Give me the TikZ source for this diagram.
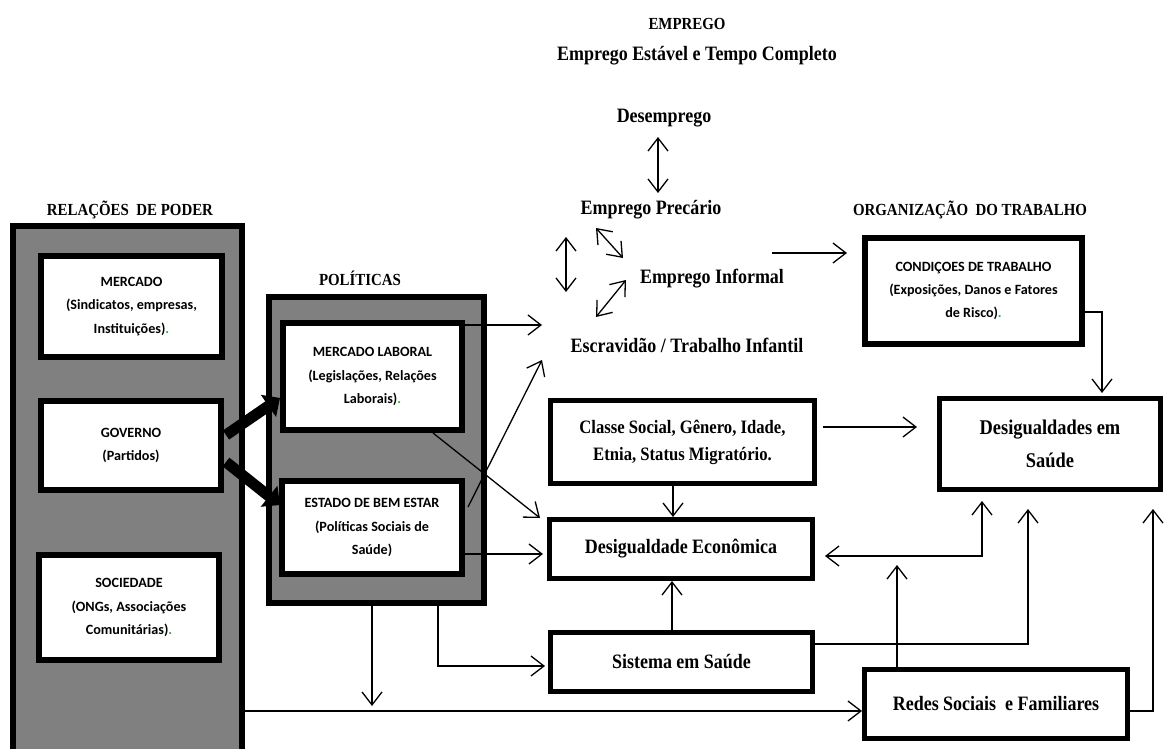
\documentclass[tikz,border=0pt]{standalone}
\usepackage{fontspec}
\setmainfont{Liberation Serif}[FakeStretch=0.88]
\newfontfamily\carl{Carlito}
\usetikzlibrary{arrows.meta}
\definecolor{boxgray}{RGB}{128,128,128}
\definecolor{dotgreen}{RGB}{60,160,60}
\tikzset{
 grayframe/.style={draw, fill=boxgray, line width=6bp, inner sep=0pt},
 wbox/.style={draw, fill=white, line width=6bp, inner sep=0pt, align=center, font=\carl\bfseries\fontsize{14.2}{23.5}\selectfont},
 mbox/.style={draw, fill=white, line width=5bp, inner sep=0pt, align=center},
 lbl/.style={inner sep=0pt, font=\bfseries\fontsize{20.5}{24}\selectfont},
 head/.style={inner sep=0pt, font=\bfseries\fontsize{17}{20}\selectfont},
 arr/.style={line width=1.3bp, -{Straight Barb[length=13bp,width=20bp]}},
 darr/.style={line width=1.3bp, {Straight Barb[length=13bp,width=20bp]}-{Straight Barb[length=13bp,width=20bp]}},
 fat/.style={line width=11bp, -{Triangle[length=14bp,width=26bp]}},
}
\begin{document}
\begin{tikzpicture}[x=1bp,y=-1bp]
\useasboundingbox (0,0) rectangle (1167,749);
\clip (0,0) rectangle (1167,749);
% titles
\node[head] (emp) at (687,24) {EMPREGO};
\node[lbl] (estavel) at (697,56) {Emprego Estável e Tempo Completo};
\node[lbl] (desemp) at (664,118) {Desemprego};
\node[lbl] (prec) at (651,210) {Emprego Precário};
\node[lbl] (inf) at (712,279) {Emprego Informal};
\node[lbl] (escr) at (687,345) {Escravidão\ /\ Trabalho Infantil};
\node[head] (org) at (970,210) {ORGANIZAÇÃO\ \ DO TRABALHO};
\node[head] (relt) at (130,210) {RELAÇÕES\ \ DE PODER};
\node[head] (polt) at (360,278) {POLÍTICAS};
% frames
\node[grayframe, minimum width=229bp, minimum height=546bp] (rel) at (127.5,499) {};
\node[grayframe, minimum width=215bp, minimum height=306bp] (pol) at (376.5,450) {};
% left boxes
\node[wbox, minimum width=181bp, minimum height=101bp] (merc) at (131.5,306.5) {MERCADO\\(Sindicatos, empresas,\\Instituições)\textcolor{dotgreen}{.}};
\node[wbox, minimum width=179bp, minimum height=89bp] (gov) at (131,445.5) {GOVERNO\\(Partidos)};
\node[wbox, minimum width=180bp, minimum height=105bp] (soc) at (129,607.5) {SOCIEDADE\\(ONGs, Associações\\Comunitárias)\textcolor{dotgreen}{.}};
\node[wbox, minimum width=179bp, minimum height=107bp] (ml) at (372.5,376.5) {MERCADO LABORAL\\(Legislações, Relações\\Laborais)\textcolor{dotgreen}{.}};
\node[wbox, minimum width=180bp, minimum height=93bp] (ebe) at (372,527.5) {ESTADO DE BEM ESTAR\\(Políticas Sociais de\\Saúde)};
\node[wbox, minimum width=217bp, minimum height=106bp] (cond) at (973.5,291) {CONDIÇOES DE TRABALHO\\(Exposições, Danos e Fatores\\de Risco)\textcolor{dotgreen}{.}};
% middle boxes
\node[mbox, minimum width=264bp, minimum height=83bp, font=\bfseries\fontsize{19}{27}\selectfont] (classe) at (682.5,442) {Classe Social, Gênero, Idade,\\Etnia, Status Migratório.};
\node[mbox, minimum width=263bp, minimum height=59bp, font=\bfseries\fontsize{20.5}{24}\selectfont] (decon) at (681,549) {Desigualdade Econômica};
\node[mbox, minimum width=262bp, minimum height=59bp, font=\bfseries\fontsize{20.5}{24}\selectfont] (sist) at (681.5,662) {Sistema em Saúde};
\node[mbox, minimum width=263bp, minimum height=69bp, font=\bfseries\fontsize{20.5}{24}\selectfont] (redes) at (996,704) {Redes Sociais\ \ e Familiares};
\node[mbox, minimum width=221bp, minimum height=91bp, font=\bfseries\fontsize{21}{33}\selectfont] (dsaude) at (1050,444) {Desigualdades em\\Saúde};
% connector coordinates
\coordinate (dA) at (658,137); \coordinate (dB) at (658,193);
\coordinate (vA) at (566,237); \coordinate (vB) at (566,292);
\coordinate (pA) at (596,228); \coordinate (pB) at (623,258);
\coordinate (iA) at (626,280); \coordinate (iB) at (596,317);
\coordinate (cS) at (772,253); \coordinate (cT) at (847,253);
\coordinate (mlR) at (465,325); \coordinate (escA) at (542,325);
\coordinate (ebeR) at (468,507); \coordinate (escB) at (542,360);
\coordinate (mlB) at (433,433); \coordinate (deTL) at (540,518);
\coordinate (ebeR2) at (465,554); \coordinate (deL) at (543,554);
\coordinate (polB1) at (372,606); \coordinate (dn1) at (372,706);
\coordinate (polB2) at (438,606); \coordinate (sk) at (438,666); \coordinate (siL) at (545,666);
\coordinate (relR) at (245,711); \coordinate (reL) at (862,711);
\coordinate (coR) at (1085,312); \coordinate (coK) at (1102,312); \coordinate (dsT) at (1102,393);
\coordinate (clR) at (823,427); \coordinate (dsL) at (917,427);
\coordinate (clB) at (673,486); \coordinate (deT) at (673,517);
\coordinate (siT) at (672,630); \coordinate (deB) at (672,581);
\coordinate (u1) at (982,501); \coordinate (k1) at (982,556); \coordinate (deR) at (825,556);
\coordinate (reT) at (897,667); \coordinate (u0) at (897,565);
\coordinate (siR) at (812,644); \coordinate (k2) at (1028,644); \coordinate (u2) at (1028,509);
\coordinate (reR) at (1130,711); \coordinate (k3) at (1153,711); \coordinate (u3) at (1153,509);
\coordinate (g1) at (226,435); \coordinate (m1) at (280,398);
\coordinate (g2) at (226,462); \coordinate (e2) at (280,505);
% connectors
\draw[darr] (dA) -- (dB);
\draw[darr] (vA) -- (vB);
\draw[darr] (pA) -- (pB);
\draw[darr] (iA) -- (iB);
\draw[arr] (cS) -- (cT);
\draw[arr] (mlR) -- (escA);
\draw[arr] (ebeR) -- (escB);
\draw[arr] (mlB) -- (deTL);
\draw[arr] (ebeR2) -- (deL);
\draw[arr] (polB1) -- (dn1);
\draw[arr] (polB2) -- (sk) -- (siL);
\draw[arr] (relR) -- (reL);
\draw[arr] (coR) -- (coK) -- (dsT);
\draw[arr] (clR) -- (dsL);
\draw[arr] (clB) -- (deT);
\draw[arr] (siT) -- (deB);
\draw[darr] (u1) -- (k1) -- (deR);
\draw[arr] (reT) -- (u0);
\draw[arr] (siR) -- (k2) -- (u2);
\draw[arr] (reR) -- (k3) -- (u3);
\draw[fat] (g1) -- (m1);
\draw[fat] (g2) -- (e2);
\end{tikzpicture}
\end{document}
